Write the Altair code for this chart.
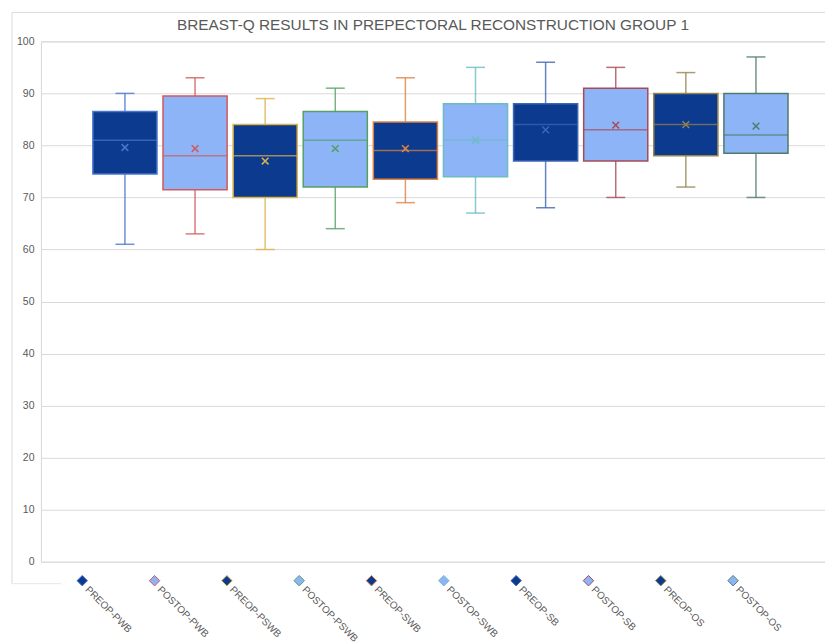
import altair as alt
import pandas as pd

series = ["PREOP-PWB", "POSTOP-PWB", "PREOP-PSWB", "POSTOP-PSWB", "PREOP-SWB",
          "POSTOP-SWB", "PREOP-SB", "POSTOP-SB", "PREOP-OS", "POSTOP-OS"]
mins = [61, 63, 60, 64, 69, 67, 68, 70, 72, 70]
q1s = [74.5, 71.5, 70, 72, 73.5, 74, 77, 77, 78, 78.5]
medians = [81, 78, 78, 81, 79, 81, 84, 83, 84, 82]
q3s = [86.5, 89.5, 84, 86.5, 84.5, 88, 88, 91, 90, 90]
maxs = [90, 93, 89, 91, 93, 95, 96, 95, 94, 97]
means = [79.6, 79.4, 77.0, 79.4, 79.4, 81.0, 83.0, 83.9, 84.0, 83.7]

fills = ["#0b3a8f", "#8db4f7", "#0b3a8f", "#8db4f7", "#0b3a8f",
         "#8db4f7", "#0b3a8f", "#8db4f7", "#0b3a8f", "#8db4f7"]
borders = ["#4a76cc", "#cf5b5b", "#dcb24a", "#55a066", "#dd8444",
           "#6cbcc2", "#3e66b3", "#a64b55", "#94844e", "#4f7c6a"]

df = pd.DataFrame({"series": series, "min": mins, "q1": q1s, "median": medians,
                   "q3": q3s, "max": maxs, "mean": means})

W, H = 785, 521
GRAY = "#595959"

xbox = alt.X("series:N", scale=alt.Scale(domain=series, paddingInner=0.0855,
                                          paddingOuter=0.634, align=0.584), axis=None)
yax = alt.Axis(values=list(range(0, 101, 10)), grid=True, gridColor="#d9d9d9",
               domain=True, domainColor="#d9d9d9", ticks=False, labelPadding=7,
               labelFontSize=10.5, labelColor=GRAY, labelFont="Liberation Sans", title=None)
yscale = alt.Scale(domain=[0, 100], nice=False)
col = alt.Color("series:N", scale=alt.Scale(domain=series, range=borders), legend=None)

base = alt.Chart(df)

whisk = base.mark_rule(strokeWidth=1.5, opacity=0.8).encode(
    x=xbox, y=alt.Y("min:Q", scale=yscale, axis=yax), y2="max:Q", color=col)
caps_lo = base.mark_tick(size=19, thickness=1.5, opacity=0.8).encode(
    x=xbox, y=alt.Y("min:Q", scale=yscale), color=col)
caps_hi = base.mark_tick(size=19, thickness=1.5, opacity=0.8).encode(
    x=xbox, y=alt.Y("max:Q", scale=yscale), color=col)
boxes = base.mark_bar(strokeWidth=1.5).encode(
    x=xbox, y=alt.Y("q1:Q", scale=yscale), y2="q3:Q",
    fill=alt.Fill("series:N", scale=alt.Scale(domain=series, range=fills), legend=None),
    stroke=alt.Stroke("series:N", scale=alt.Scale(domain=series, range=borders), legend=None))
med = base.mark_tick(size=64, thickness=1.5).encode(
    x=xbox, y=alt.Y("median:Q", scale=yscale), color=col)
mean_pt = base.mark_point(shape="M-1,-1L1,1M1,-1L-1,1", size=45, strokeWidth=1.5,
                          filled=False, opacity=1).encode(
    x=xbox, y=alt.Y("mean:Q", scale=yscale), color=col)

box_layer = alt.layer(whisk, caps_lo, caps_hi, boxes, med, mean_pt)

xleg = alt.X("series:N", scale=alt.Scale(type="point", domain=series, padding=0.921,
                                          align=0.31), axis=None)
leg_pts = base.mark_point(shape="diamond", size=110, filled=True, strokeWidth=1,
                          opacity=1).encode(
    x=xleg, y=alt.value(H + 19),
    fill=alt.Fill("series:N", scale=alt.Scale(domain=series, range=fills), legend=None),
    stroke=alt.Stroke("series:N", scale=alt.Scale(domain=series, range=borders), legend=None))
leg_txt = base.mark_text(angle=45, align="left", baseline="middle", dx=8.5, dy=2,
                         fontSize=10, font="Liberation Sans", color=GRAY).encode(
    x=xleg, y=alt.value(H + 19), text="series:N")
leg_layer = alt.layer(leg_pts, leg_txt)

frame_df = pd.DataFrame({"k": [0]})
frame_left = alt.Chart(frame_df).mark_rule(color="#d9d9d9", strokeWidth=1).encode(
    x=alt.value(-29), y=alt.value(-29), y2=alt.value(H + 22))
frame_top = alt.Chart(frame_df).mark_rule(color="#d9d9d9", strokeWidth=1).encode(
    x=alt.value(-29), x2=alt.value(W + 20), y=alt.value(-29))
frame_bot = alt.Chart(frame_df).mark_rule(color="#e6e6e6", strokeWidth=1).encode(
    x=alt.value(-29), x2=alt.value(20), y=alt.value(H + 22))

chart = alt.layer(frame_left, frame_top, frame_bot, box_layer, leg_layer).resolve_scale(
    x="independent"
).properties(
    width=W, height=H,
    autosize=alt.AutoSizeParams(type="none"),
    padding={"left": 33, "top": 33, "right": 0, "bottom": 80},
    title=alt.TitleParams("BREAST-Q RESULTS IN PREPECTORAL RECONSTRUCTION GROUP 1",
                          fontSize=15.4, color=GRAY, font="Liberation Sans",
                          fontWeight="normal", anchor="middle", offset=-22),
).configure_view(stroke=None).configure(background="white")

chart.save("out.html", embed_options={"renderer": "svg", "actions": False})
